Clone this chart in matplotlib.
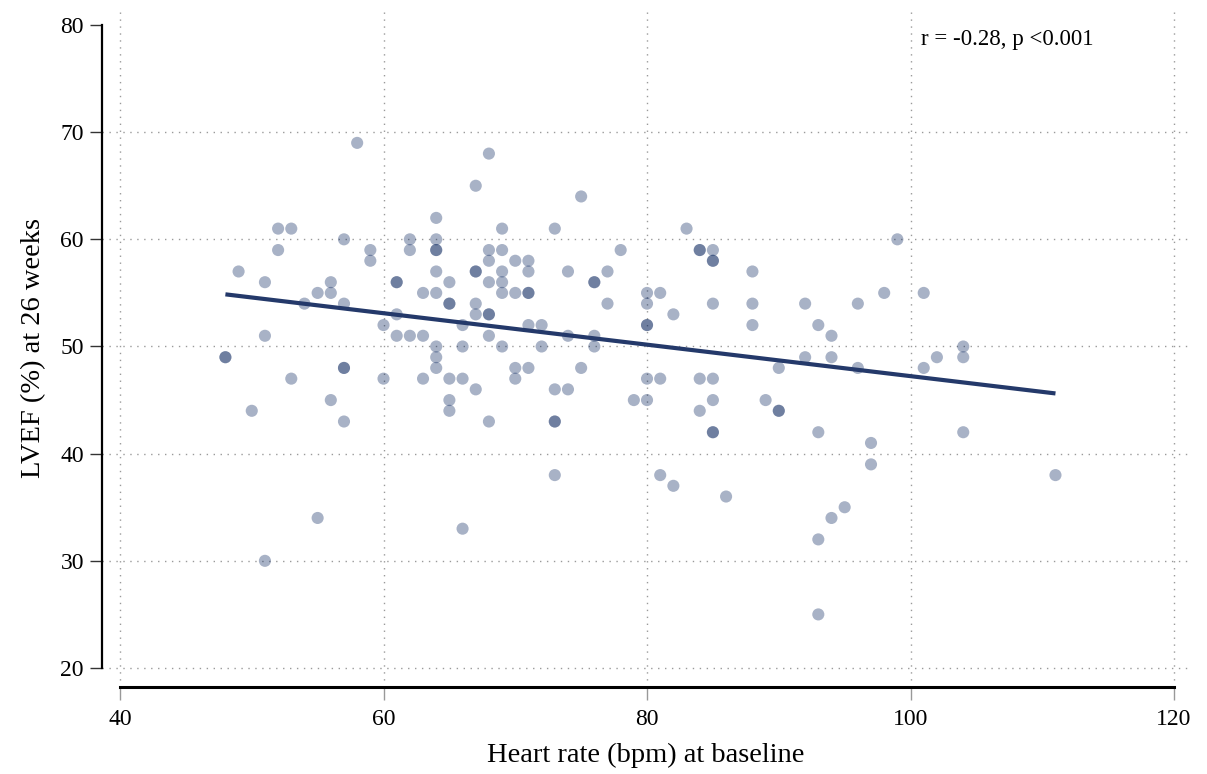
import matplotlib
matplotlib.use("Agg")
import matplotlib.pyplot as plt
import numpy as np

# heart rate at baseline (bpm) and LVEF at 26 weeks (%)
hr = [58, 52, 53, 52, 57, 59, 59, 49, 51, 56, 55, 56, 54, 57,
      62, 62, 64, 64, 64, 64, 64, 64, 61, 61, 63, 65, 65, 65, 61, 60,
      51, 61, 62, 63, 64, 64, 64, 48, 48, 57, 57,
      53, 60, 63, 65, 65, 65, 56, 50, 57, 55, 51,
      68, 67, 75, 69, 73, 68, 69, 78, 68, 70, 71,
      67, 67, 69, 71, 74, 77, 68, 69, 76, 76,
      69, 70, 71, 71, 80, 81, 67, 77, 80, 67, 68, 68, 82,
      66, 71, 72, 80, 80, 68, 74, 76, 66, 69, 72, 76,
      70, 71, 75, 66, 70, 80, 81, 67, 73, 74, 79, 80, 68, 73, 73,
      73, 81, 82, 66,
      83, 99, 84, 84, 85, 85, 85, 88, 98, 101, 85, 88, 92, 96,
      88, 93, 94, 92, 94, 96, 90, 84, 85,
      85, 89, 84, 90, 90, 85, 85, 93, 97, 97,
      86, 95, 94, 93, 93, 104, 102, 104, 101, 104, 111]
lvef = [69, 61, 61, 59, 60, 59, 58, 57, 56, 56, 55, 55, 54, 54,
        60, 59, 62, 60, 59, 59, 57, 55, 56, 56, 55, 56, 54, 54, 53, 52,
        51, 51, 51, 51, 50, 49, 48, 49, 49, 48, 48,
        47, 47, 47, 47, 45, 44, 45, 44, 43, 34, 30,
        68, 65, 64, 61, 61, 59, 59, 59, 58, 58, 58,
        57, 57, 57, 57, 57, 57, 56, 56, 56, 56,
        55, 55, 55, 55, 55, 55, 54, 54, 54, 53, 53, 53, 53,
        52, 52, 52, 52, 52, 51, 51, 51, 50, 50, 50, 50,
        48, 48, 48, 47, 47, 47, 47, 46, 46, 46, 45, 45, 43, 43, 43,
        38, 38, 37, 33,
        61, 60, 59, 59, 59, 58, 58, 57, 55, 55, 54, 54, 54, 54,
        52, 52, 51, 49, 49, 48, 48, 47, 47,
        45, 45, 44, 44, 44, 42, 42, 42, 41, 39,
        36, 35, 34, 32, 25, 50, 49, 49, 48, 42, 38]
annot = "r = -0.28, p <0.001"

hr = np.array(hr, dtype=float)
lvef = np.array(lvef, dtype=float)

plt.rcParams['font.family'] = ['Liberation Serif', 'DejaVu Serif']

fig = plt.figure(figsize=(12.07, 7.74), dpi=100)
W, H = 1207, 774
ax = fig.add_axes([102 / W, 1 - 687 / H, (1190 - 102) / W, (687 - 8) / H])

ax.scatter(hr, lvef, s=76, color='#021f59', alpha=0.34, edgecolors='none', zorder=3)

# least-squares line over the observed range
b, a = np.polyfit(hr, lvef, 1)
xs = np.array([hr.min(), hr.max()])
ax.plot(xs, a + b * xs, color='#24396a', lw=3, zorder=4, solid_capstyle='butt')

ax.set_xlim(38.634, 121.21)
ax.set_ylim(18.227, 81.586)
ax.set_xticks([40, 60, 80, 100, 120])
ax.set_yticks([20, 30, 40, 50, 60, 70, 80])

ax.grid(True, ls=(0, (1, 4)), color='#9a9a9a', lw=1)
ax.get_ygridlines()[-1].set_visible(False)
ax.set_axisbelow(True)

for s in ['top', 'right']:
    ax.spines[s].set_visible(False)
ax.spines['left'].set_bounds(20, 80)
ax.spines['bottom'].set_bounds(40, 120)
ax.spines['left'].set_linewidth(1.6)
ax.spines['bottom'].set_linewidth(2.2)

ax.tick_params(axis='y', length=9, width=1, color='#333333', pad=4, labelsize=17)
ax.tick_params(axis='x', length=9, width=1, color='#999999', pad=7, labelsize=17)

ax.set_xlabel("Heart rate (bpm) at baseline", fontsize=20.5, labelpad=9)
ax.set_ylabel("LVEF (%) at 26 weeks", fontsize=20.5, labelpad=10)

ax.text(0.753, 0.954, annot, transform=ax.transAxes, fontsize=16.5, ha='left', va='center')

fig.savefig("out.png", dpi=100)
